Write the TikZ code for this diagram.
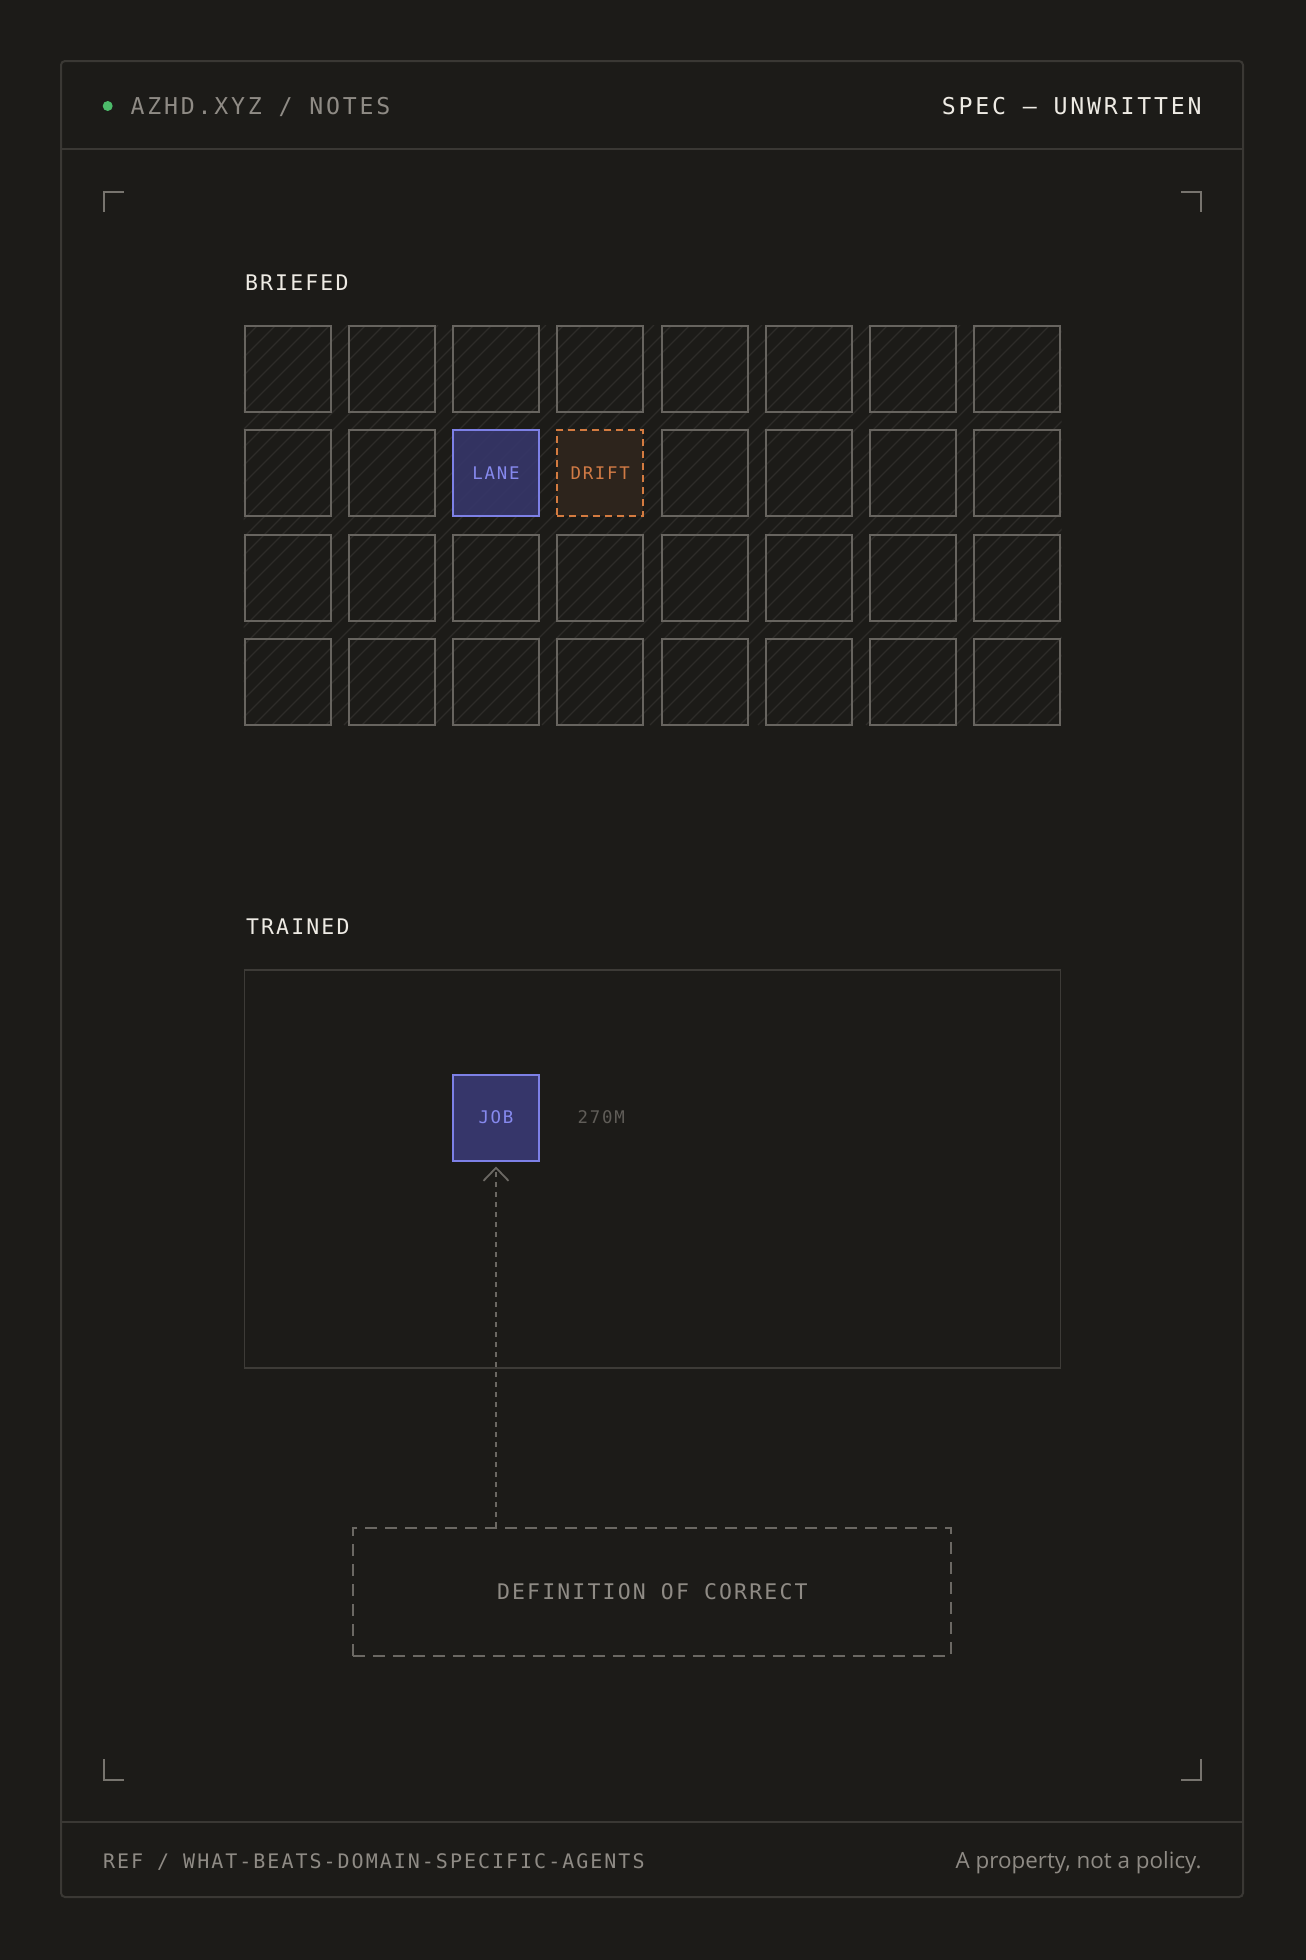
\documentclass[tikz,border=0pt]{standalone}
\usepackage{fontspec}
\usetikzlibrary{arrows.meta}

\newfontfamily\labelfont[LetterSpace=10]{DejaVu Sans Mono}
\newfontfamily\headlabelfont[LetterSpace=12]{DejaVu Sans Mono}
\newfontfamily\notefont{Open Sans}

\definecolor{pagebg}{HTML}{1C1B18}
\definecolor{frameline}{HTML}{3A3834}
\definecolor{cellline}{HTML}{67645F}
\definecolor{hatchline}{HTML}{2E2C29}
\definecolor{laneline}{HTML}{7D80E6}
\definecolor{lanefill}{HTML}{36366A}
\definecolor{lanetext}{HTML}{8689EE}
\definecolor{driftline}{HTML}{D47B40}
\definecolor{driftfill}{HTML}{2D241C}
\definecolor{drifttext}{HTML}{D07A45}
\definecolor{boxline}{HTML}{3D3B37}
\definecolor{dashline}{HTML}{6B6863}
\definecolor{dimtext}{HTML}{8F8B85}
\definecolor{fainttext}{HTML}{605D58}
\definecolor{brighttext}{HTML}{EEEBE4}
\definecolor{markline}{HTML}{77746E}
\definecolor{livedot}{HTML}{4CBB6A}

\newcommand\headfont{\headlabelfont\fontsize{23.2}{28}\selectfont}
\newcommand\titlefont{\labelfont\fontsize{21.5}{26}\selectfont}
\newcommand\cellfont{\labelfont\fontsize{17.4}{21}\selectfont}
\newcommand\footfont{\labelfont\fontsize{20}{24}\selectfont}
\newcommand\quotefont{\notefont\fontsize{22.4}{27}\selectfont}

\tikzset{
  txt/.style={inner sep=0pt, outer sep=0pt},
  rule/.style={draw=frameline, line width=2pt},
  cornermark/.style={draw=markline, line width=2pt},
  cell/.style={draw=cellline, line width=2pt, minimum size=86pt, inner sep=0pt},
  lanecell/.style={cell, draw=laneline, fill=lanefill, fill opacity=0.9, text opacity=1, text=lanetext, font=\cellfont},
  driftcell/.style={cell, draw=driftline, fill=driftfill, dash pattern=on 7pt off 5pt, text=drifttext, font=\cellfont},
  jobcell/.style={cell, draw=laneline, fill=lanefill, text=lanetext, font=\cellfont},
  trainbox/.style={draw=boxline, line width=1.5pt, minimum width=816pt, minimum height=398pt, inner sep=0pt},
  defbox/.style={draw=dashline, line width=2pt, dash pattern=on 12pt off 8pt, minimum width=598pt, minimum height=128pt, inner sep=0pt, text=dimtext, font=\titlefont},
  link/.style={draw=dashline, line width=1.8pt, dash pattern=on 5pt off 5pt, -{Straight Barb[length=13pt, width=25pt]}, shorten >=5pt}
}

\begin{document}
\begin{tikzpicture}[x=1pt,y=-1pt]
\fill[pagebg] (0,0) rectangle (1306,1960);
\useasboundingbox (0,0) rectangle (1306,1960);

\draw[rule, rounded corners=4pt] (61,61) rectangle (1243,1897);

\draw[rule] (61,149) -- (1243,149);

\draw[rule] (61,1822) -- (1243,1822);

\node [circle, fill=livedot, minimum size=10pt, inner sep=0pt] (dot) at (107.7,106) {};

\node [txt, anchor=base west, text=dimtext, font=\headfont] (site) at (130.7,114.3) {AZHD.XYZ / NOTES};

\node [txt, anchor=base east, text=brighttext, font=\headfont] (status) at (1201.5,114.3) {SPEC — UNWRITTEN};

\draw[cornermark] (104,212) -- (104,192) -- (124,192);
\draw[cornermark] (1181,192) -- (1201,192) -- (1201,212);
\draw[cornermark] (104,1759) -- (104,1780) -- (124,1780);
\draw[cornermark] (1181,1780) -- (1201,1780) -- (1201,1759);

\node [txt, anchor=base west, text=brighttext, font=\titlefont] (briefed) at (245,290) {BRIEFED};

\begin{scope}
\clip (243.5,325) rectangle (1061.5,725);
\foreach \x in {-160,-142,...,1061}
  \draw[hatchline, line width=1.2pt] (\x,725) -- (\x+400,325);
\end{scope}

\foreach \r in {0,...,3}{
  \foreach \c in {0,...,7}{
    \pgfmathtruncatemacro\taken{(\r==1)&&(\c>1)&&(\c<4)}
    \ifnum\taken=0
      \node [cell] (cell-\r-\c) at (287.5+104.25*\c, 369+104.25*\r) {};
    \fi
  }
}

\node [lanecell] (lane) at (496,473.25) {LANE};

\node [driftcell] (drift) at (600.25,473.25) {DRIFT};

\node [txt, anchor=base west, text=brighttext, font=\titlefont] (trainedlabel) at (246,934) {TRAINED};

\node [trainbox] (trained) at (652.5,1168.75) {};

\node [jobcell] (job) at (496,1117.5) {JOB};

\node [txt, anchor=base west, text=fainttext, font=\cellfont] (size) at (577.7,1123.7) {270M};

\node [defbox] (def) at (652.3,1592) {DEFINITION OF CORRECT};

\draw [link] (job.south |- def.north) -- (job.south);

\node [txt, anchor=base west, text=dimtext, font=\footfont] (ref) at (103,1868.3) {REF / WHAT-BEATS-DOMAIN-SPECIFIC-AGENTS};

\node [txt, anchor=base east, text=dimtext, font=\quotefont] (quote) at (1201.5,1868.3) {A property, not a policy.};

\end{tikzpicture}
\end{document}
